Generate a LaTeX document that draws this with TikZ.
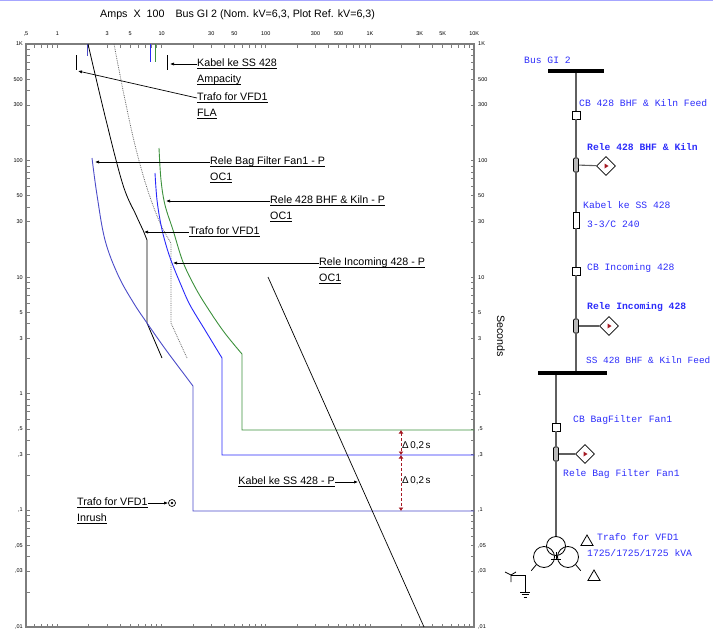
\documentclass[tikz,border=0pt]{standalone}
\usepackage{fontspec}
\setmainfont{Liberation Sans}
\newfontfamily\sldfont{Liberation Mono}
\usetikzlibrary{
	arrows.meta,
	calc,
	positioning,
	shapes.geometric,
}
\definecolor{fanblue}{RGB}{75,75,200}
\definecolor{incblue}{RGB}{40,40,250}
\definecolor{kilngreen}{RGB}{60,145,60}
\definecolor{sldblue}{RGB}{45,45,250}
\definecolor{deltared}{RGB}{165,25,35}
\definecolor{framegray}{RGB}{125,125,125}
\definecolor{wiregray}{RGB}{95,95,95}
\tikzset{curve label/.style={
	inner sep=0pt,
	anchor=west,
	font=\fontsize{10.7}{13}\selectfont,
}}
\tikzset{tick label/.style={
	inner sep=0pt,
	font=\fontsize{5.5}{6}\selectfont,
}}
\tikzset{axis tick/.style={
	framegray,
	line width=0.8pt,
}}
\tikzset{pointer/.style={
	-{Latex[length=4pt,width=3.2pt]},
	line width=0.7pt,
}}
\tikzset{sld label/.style={
	inner sep=0pt,
	anchor=west,
	text=sldblue,
	font=\sldfont\fontsize{9.7}{11}\selectfont,
}}
\tikzset{sld line/.style={
	wiregray,
	line width=1.1pt,
}}
\tikzset{bus bar/.style={
	fill=black,
	inner sep=0pt,
	minimum height=4pt,
}}
\tikzset{breaker/.style={
	draw,
	fill=white,
	inner sep=0pt,
	minimum size=8pt,
	line width=0.8pt,
}}
\tikzset{relay ct/.style={
	draw,
	fill=gray!55,
	rounded corners=1pt,
	inner sep=0pt,
	minimum width=5pt,
	minimum height=14pt,
	line width=0.7pt,
}}
\tikzset{relay/.style={
	draw,
	diamond,
	fill=white,
	inner sep=0pt,
	minimum size=19pt,
	line width=0.7pt,
}}
\tikzset{cable box/.style={
	draw,
	fill=white,
	inner sep=0pt,
	minimum width=6pt,
	minimum height=16pt,
	line width=0.7pt,
}}
\tikzset{winding/.style={
	draw,
	circle,
	inner sep=0pt,
	line width=0.8pt,
}}
\tikzset{delta/.style={
	draw,
	regular polygon,
	regular polygon sides=3,
	inner sep=0pt,
	minimum size=14pt,
	line width=0.8pt,
}}
\newcommand{\ulbl}[1]{\setbox0\hbox{#1}\rlap{\rule[-2.6pt]{\wd0}{1pt}}\box0}
\newcommand{\relaymark}[1]{\fill[deltared] ($(#1.center)+(-1.5,-2.5)$) -- ++(4,2.5) -- ++(-4,2.5) -- cycle;}

\begin{document}
\begin{tikzpicture}[x=1pt, y=-1pt]
\useasboundingbox (0,0) rectangle (713,632);
\draw[blue!35, line width=1pt] (0,0.5) -- (713,0.5);

\node[curve label] (title) at (100,15) {Amps\hspace{6pt}X\hspace{6pt}100\hspace{11pt}Bus GI 2 (Nom. kV=6,3, Plot Ref. kV=6,3)};

% ticks
\begin{scope}
\clip (25,43) rectangle (475,628);
\foreach \d in {-1,...,3}
	\foreach \m in {1,...,9} {
		\pgfmathsetmacro\px{26+104.2*(log10(\m)+\d+0.30103)}
		\draw[axis tick] (\px,44) -- ++(0,3.5);
		\draw[axis tick] (\px,627) -- ++(0,-3.5);
	}
\foreach \d in {-2,...,3}
	\foreach \m in {1,...,9} {
		\pgfmathsetmacro\py{44+116.6*(3-log10(\m)-\d)}
		\draw[axis tick] (26,\py) -- ++(3.5,0);
		\draw[axis tick] (474,\py) -- ++(-3.5,0);
	}
\end{scope}
\draw[framegray, line width=1.6pt] (26,44) rectangle (474,627);

\foreach \lab/\v [count=\i] in {{,5}/0.5, 1/1, 3/3, 5/5, 10/10, 30/30, 50/50, 100/100, 300/300, 500/500, 1K/1000, 3K/3000, 5K/5000, 10K/10000} {
	\pgfmathsetmacro\px{26+104.2*(log10(\v)+0.30103)}
	\node[tick label] (xtick\i) at (\px,34) {\lab};
}
\foreach \lab/\v [count=\i] in {1K/1000, 500/500, 300/300, 100/100, 50/50, 30/30, 10/10, 5/5, 3/3, 1/1, {,5}/0.5, {,3}/0.3, {,1}/0.1, {,05}/0.05, {,03}/0.03, {,01}/0.01} {
	\pgfmathsetmacro\py{44+116.6*(3-log10(\v))}
	\node[tick label, anchor=east] (ltick\i) at (23,\py) {\lab};
	\node[tick label, anchor=west] (rtick\i) at (478,\py) {\lab};
}
\node[curve label, rotate=-90, anchor=center] (seconds) at (501,336) {Seconds};

% curves
\draw[fanblue, line width=0.9pt] (87,44) -- (87,56);
\draw[incblue, line width=0.9pt] (150,44) -- (150,62);
\draw[kilngreen, line width=0.9pt] (155,44) -- (155,62);

\draw[gray!80!black, densely dotted, line width=0.8pt] plot[smooth, tension=0.6] coordinates {(114,44) (124,95) (135,145) (147,188) (160,223) (171,243)} -- (171,323) -- (187,358);

\draw[black, line width=0.8pt] plot[smooth, tension=0.6] coordinates {(88,44) (106,120) (123,185) (136,215) (143,230)} -- (147,240) -- (147,323) -- (162,358);

\draw[fanblue, line width=0.9pt] plot[smooth, tension=0.6] coordinates {(92,158) (97,195) (105,240) (118,275) (133,302) (147,323) (166,350) (187,378)} -- (193,386) -- (193,511) -- (474,511);

\draw[incblue, line width=0.9pt] plot[smooth, tension=0.6] coordinates {(155,173) (157,200) (161,225) (166,245) (172,263) (181,285) (190,305) (205,330) (222,358)} -- (222,455) -- (474,455);

\draw[kilngreen, line width=0.9pt] plot[smooth, tension=0.6] coordinates {(159,148) (161,180) (165,205) (173,230) (183,262) (195,287) (207,307) (224,332) (242,354)} -- (242,430) -- (474,430);

\draw[black, line width=0.7pt] (268,277) -- (424,627);

\draw[black, line width=0.9pt] (167,55) -- (167,70);
\draw[black, line width=0.9pt] (76,55) -- (76,70);

% labels
\node[curve label] (kabamp) at (197,64) {\ulbl{Kabel ke SS 428}};
\node[curve label] (kabamp2) at (197,80) {\ulbl{Ampacity}};
\draw[pointer] (kabamp.west) -- (170,64);

\node[curve label] (trafla) at (197,98) {\ulbl{Trafo for VFD1}};
\node[curve label] (trafla2) at (197,114) {\ulbl{FLA}};
\draw[pointer] (trafla.west) -- (78,71);

\node[curve label] (relfan) at (210,162) {\ulbl{Rele Bag Filter Fan1 - P}};
\node[curve label] (relfan2) at (210,178) {\ulbl{OC1}};
\draw[pointer] (relfan.west) -- (95,162);

\node[curve label] (relkiln) at (270,201) {\ulbl{Rele 428 BHF \& Kiln - P}};
\node[curve label] (relkiln2) at (270,217) {\ulbl{OC1}};
\draw[pointer] (relkiln.west) -- (166,201);

\node[curve label] (trafdmg) at (189,232) {\ulbl{Trafo for VFD1}};
\draw[pointer] (trafdmg.west) -- (144,232);

\node[curve label] (relinc) at (319,263) {\ulbl{Rele Incoming 428 - P}};
\node[curve label] (relinc2) at (319,279) {\ulbl{OC1}};
\draw[pointer] (relinc.west) -- (173,263);

\node[curve label, anchor=east] (kabdmg) at (335,482) {\ulbl{Kabel ke SS 428 - P}};
\draw[pointer] (kabdmg.east) -- (358,482);

\node[curve label] (trafinr) at (77,503) {\ulbl{Trafo for VFD1}};
\node[curve label] (trafinr2) at (77,519) {\ulbl{Inrush}};
\node[winding, minimum size=7pt, line width=0.7pt] (inrush) at (172,503) {};
\fill (inrush.center) circle[radius=1.4pt];
\draw[pointer] (trafinr.east) -- (inrush.west);

% margins
\coordinate (m1) at (401,430);
\coordinate (m2) at (401,455);
\coordinate (m3) at (401,511);
\draw[deltared, densely dashed, line width=0.8pt, {Latex[length=3.5pt,width=5pt]}-{Latex[length=3.5pt,width=5pt]}] (m1) -- (m2);
\draw[deltared, densely dashed, line width=0.8pt, {Latex[length=3.5pt,width=5pt]}-{Latex[length=3.5pt,width=5pt]}] (m2) -- (m3);
\node[curve label, font=\fontsize{9.8}{11}\selectfont] (dt1) at (402,446) {Δ\,0,2\,s};
\node[curve label, font=\fontsize{9.8}{11}\selectfont] (dt2) at (402,481) {Δ\,0,2\,s};

% one-line diagram
\node[bus bar, minimum width=56pt] (busgi) at (576,71) {};
\node[breaker] (cbkiln) at (576,115) {};
\node[relay ct] (ctkiln) at (576,165) {};
\node[relay] (rlkiln) at (606,166) {};
\node[cable box] (kabel) at (576,220) {};
\node[breaker] (cbinc) at (576,271) {};
\node[relay ct] (ctinc) at (576,326) {};
\node[relay] (rlinc) at (609,326) {};
\node[bus bar, minimum width=69pt] (busss) at (572.5,373) {};

\draw[sld line] (busgi) -- (cbkiln) -- (ctkiln) -- (kabel) -- (cbinc) -- (ctinc) -- (ctinc |- busss.north);
\draw[sld line] (ctkiln) -- (rlkiln);
\draw[sld line] (ctinc) -- (rlinc);
\relaymark{rlkiln}
\relaymark{rlinc}

\node[breaker] (cbfan) at (556,427) {};
\node[relay ct] (ctfan) at (556,454) {};
\node[relay] (rlfan) at (585,454) {};
\node[winding, minimum size=19pt] (wdgp) at (556,546) {};
\node[winding, minimum size=21pt] (wdgs) at (544,557) {};
\node[winding, minimum size=21pt] (wdgt) at (568,557) {};
\draw[sld line] (cbfan |- busss.south) -- (cbfan) -- (ctfan) -- (wdgp);
\draw[sld line] (ctfan) -- (rlfan);
\relaymark{rlfan}
\draw[line width=0.8pt] (wdgs.south west) -- ++(-5,6);
\draw[line width=0.8pt] (wdgt.south east) -- ++(5,6);
\draw[line width=0.8pt] (556,552) -- (556,559) (551,559) -- (561,559);

\node[delta] (dltone) at (587,542) {};
\node[delta] (dlttwo) at (594,577) {};

% neutral earthing
\coordinate (star) at (511,575);
\coordinate (gnd) at (525,592);
\draw[line width=0.8pt] (505,572) -- (star) -- (516,572) (star) -- (511,582);
\draw[line width=0.8pt] (star) -- (525,575) -- (gnd);
\draw[line width=0.8pt] ($(gnd)+(-5,0)$) -- ($(gnd)+(5,0)$)
	($(gnd)+(-3.5,2.5)$) -- ($(gnd)+(3.5,2.5)$)
	($(gnd)+(-1.5,5)$) -- ($(gnd)+(1.5,5)$);

\node[sld label] (lbusgi) at (524,60) {Bus GI 2};
\node[sld label] (lcbkiln) at (579,103) {CB 428 BHF \& Kiln Feed};
\node[sld label, font=\sldfont\bfseries\fontsize{9.7}{11}\selectfont] (lrlkiln) at (587,147) {Rele 428 BHF \& Kiln};
\node[sld label] (lkabel) at (583,205) {Kabel ke SS 428};
\node[sld label] (lkabel2) at (587,224) {3-3/C 240};
\node[sld label] (lcbinc) at (587,268) {CB Incoming 428};
\node[sld label, font=\sldfont\bfseries\fontsize{9.7}{11}\selectfont] (lrlinc) at (587,307) {Rele Incoming 428};
\node[sld label, font=\sldfont\fontsize{9.4}{11}\selectfont] (lbusss) at (586,360) {SS 428 BHF \& Kiln Feed};
\node[sld label] (lcbfan) at (573,420) {CB BagFilter Fan1};
\node[sld label] (lrlfan) at (563,474) {Rele Bag Filter Fan1};
\node[sld label] (ltraf) at (597,537) {Trafo for VFD1};
\node[sld label] (ltraf2) at (587,553) {1725/1725/1725 kVA};

\end{tikzpicture}
\end{document}
